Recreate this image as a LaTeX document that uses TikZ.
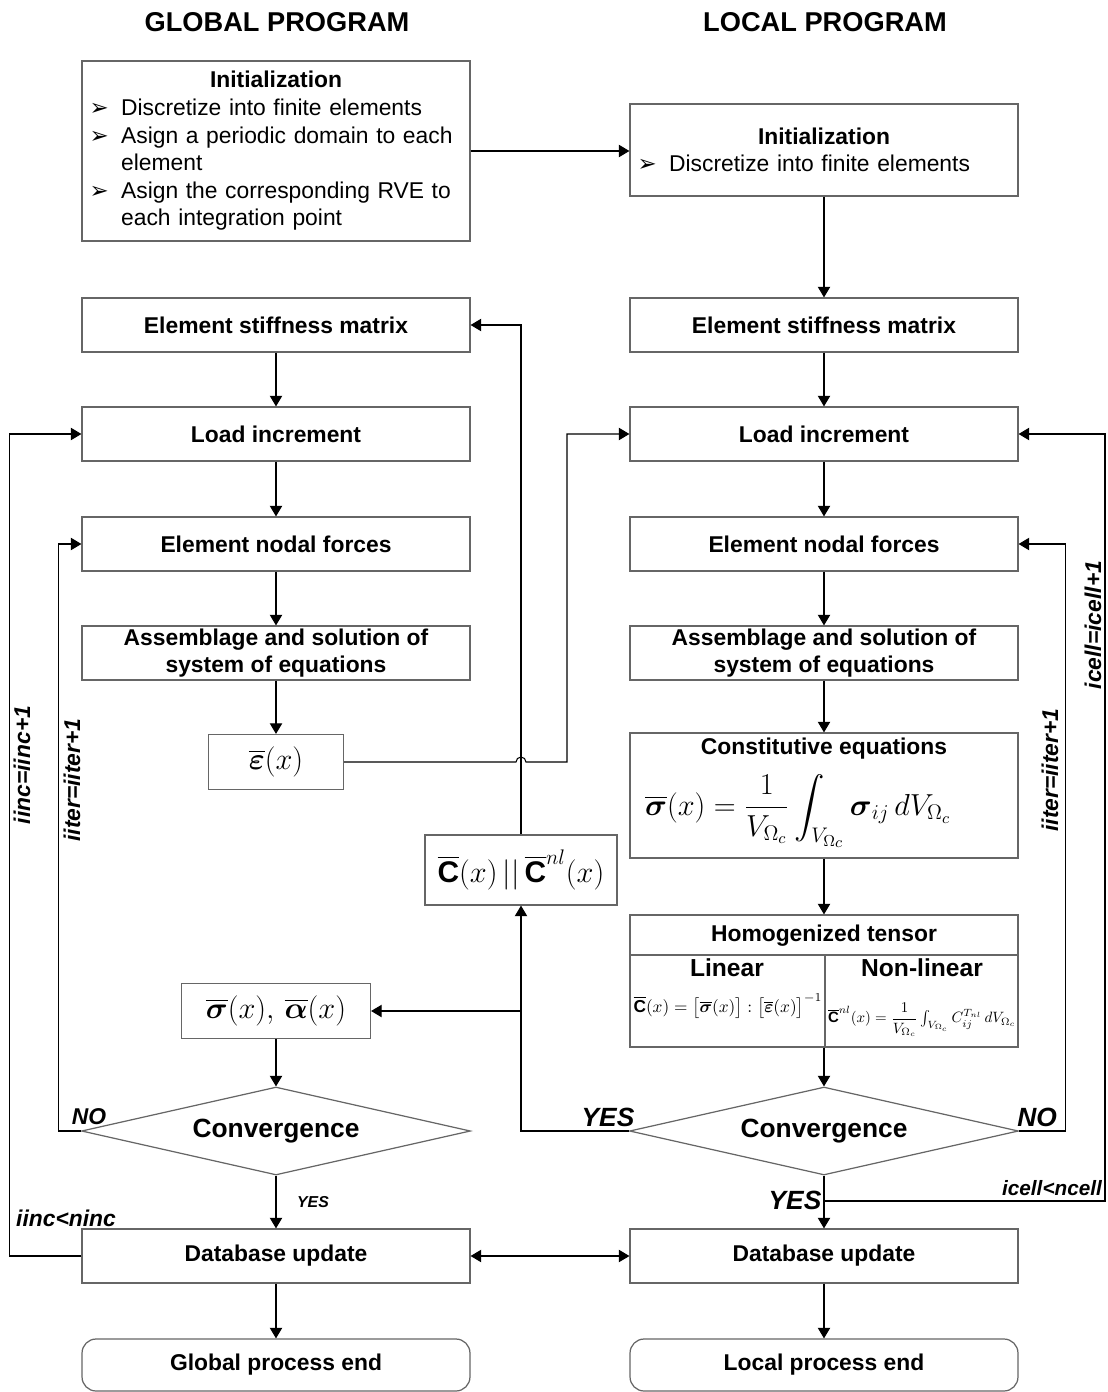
\documentclass[tikz,border=0pt]{standalone}
\usepackage{amsmath}
\usepackage{graphicx}
\usepackage{fontspec}
\setmainfont{Liberation Sans}
\newfontfamily\symfont{DejaVu Sans}
\usetikzlibrary{arrows.meta,shapes.geometric}

\newcommand\itm[1]{\par\hangindent=18pt\hangafter=1\noindent\makebox[18pt][l]{\symfont\char"27A2}#1\par}
\newcommand\mathsz{\fontsize{17}{20}\selectfont}

\tikzset{
  blk/.style={draw=black!60, line width=0.7pt, minimum width=7.76cm, minimum height=1.08cm,
    inner sep=1pt, align=center, font=\bfseries\fontsize{13}{15.5}\selectfont},
  endblk/.style={blk, rounded corners=8pt},
  decide/.style={draw=black!60, line width=0.7pt, diamond, aspect=4.41, minimum width=7.78cm,
    minimum height=1.76cm, inner sep=0pt, font=\bfseries\fontsize{15}{18}\selectfont},
  mathblk/.style={draw=black!60, line width=0.7pt, minimum height=1.1cm, inner sep=1pt, font=\mathsz},
  lnk/.style={line width=0.6pt, -{Triangle[length=6pt,width=7pt]}},
  tag/.style={font=\bfseries\itshape\fontsize{13}{15}\selectfont, inner sep=0pt},
  head/.style={font=\bfseries\fontsize{15.5}{18}\selectfont},
}

\begin{document}
\begin{tikzpicture}[x=0.02cm, y=-0.02cm]
  \useasboundingbox (0,0) rectangle (1107,1392);

  \node[head] (gtitle) at (277,22) {GLOBAL PROGRAM};
  \node[head] (ltitle) at (825,22) {LOCAL PROGRAM};

  % global column
  \node[blk, minimum height=3.6cm, text width=7.46cm, inner xsep=0.15cm, align=left,
        font=\fontsize{13}{15.7}\selectfont] (ginit) at (276,151)
    {{\centering\bfseries Initialization\par}
     \itm{Discretize into finite elements}
     \itm{Asign a periodic domain to each element}
     \itm{Asign the corresponding RVE to each integration point}};
  \node[blk] (gstiff) at (276,325) {Element stiffness matrix};
  \node[blk] (gload) at (276,434) {Load increment};
  \node[blk] (gforce) at (276,544) {Element nodal forces};
  \node[blk] (gsolve) at (276,653) {Assemblage and solution of\\system of equations};
  \node[mathblk, minimum width=2.7cm] (geps) at (276,762) {$\overline{\boldsymbol{\varepsilon}}(x)$};
  \node[mathblk, minimum width=3.78cm] (gsig) at (276,1011)
    {$\overline{\boldsymbol{\sigma}}(x),\,\overline{\boldsymbol{\alpha}}(x)$};
  \node[decide] (gconv) at (276,1131) {Convergence};
  \node[blk] (gdb) at (276,1256) {Database update};
  \node[endblk, minimum height=1.04cm] (gend) at (276,1365) {Global process end};

  \node[mathblk, minimum width=3.84cm, minimum height=1.4cm] (ctan) at (521,870)
    {$\overline{\mathbf{C}}(x)\,||\,\overline{\mathbf{C}}^{nl}(x)$};

  % local column
  \node[blk, minimum height=1.84cm, text width=7.46cm, inner xsep=0.15cm, align=left,
        font=\fontsize{13}{15.7}\selectfont] (linit) at (824,150)
    {{\centering\bfseries Initialization\par}
     \itm{Discretize into finite elements}};
  \node[blk] (lstiff) at (824,325) {Element stiffness matrix};
  \node[blk] (lload) at (824,434) {Load increment};
  \node[blk] (lforce) at (824,544) {Element nodal forces};
  \node[blk] (lsolve) at (824,653) {Assemblage and solution of\\system of equations};
  \node[blk, minimum height=2.5cm] (lconst) at (824,795.5) {};
  \node[font=\bfseries\fontsize{13}{15}\selectfont, inner sep=0pt] (consttitle) at (824,749) {Constitutive equations};
  \node[inner sep=0pt, font=\fontsize{17.5}{21}\selectfont] (constf) at (798,811)
    {$\displaystyle\overline{\boldsymbol{\sigma}}(x)=\frac{1}{V_{\Omega_c}}\int_{V_{\Omega_c}}\boldsymbol{\sigma}_{ij}\,dV_{\Omega_c}$};
  \node[blk, minimum height=2.64cm] (lhom) at (824,981) {};
  \draw[draw=black!60, line width=0.7pt] (630,955) -- (1019,955);
  \draw[draw=black!60, line width=0.7pt] (825,955) -- (825,1047);
  \node[font=\bfseries\fontsize{13}{15}\selectfont] (homtitle) at (824,936) {Homogenized tensor};
  \node[font=\bfseries\fontsize{14}{16}\selectfont, inner sep=0pt] (homlin) at (727,968) {Linear};
  \node[font=\bfseries\fontsize{14}{16}\selectfont, inner sep=0pt] (homnl) at (922,968) {Non-linear};
  \node[inner sep=0pt] (homlinf) at (728,1006)
    {\resizebox{3.78cm}{!}{$\overline{\mathbf{C}}(x)=\big[\overline{\boldsymbol{\sigma}}(x)\big]:\big[\overline{\boldsymbol{\varepsilon}}(x)\big]^{-1}$}};
  \node[inner sep=0pt] (homnlf) at (922,1020)
    {\resizebox{3.76cm}{!}{$\overline{\mathbf{C}}^{nl}(x)=\dfrac{1}{V_{\Omega_c}}\int_{V_{\Omega_c}}C_{ij}^{T_{nl}}\,dV_{\Omega_c}$}};
  \node[decide] (lconv) at (824,1131) {Convergence};
  \node[blk] (ldb) at (824,1256) {Database update};
  \node[endblk, minimum height=1.04cm] (lend) at (824,1365) {Local process end};

  % connectors
  \draw[lnk] (ginit.east) -- (linit.west |- ginit.east);
  \draw[lnk] (linit) -- (lstiff);
  \draw[lnk] (gstiff) -- (gload);
  \draw[lnk] (gload) -- (gforce);
  \draw[lnk] (gforce) -- (gsolve);
  \draw[lnk] (gsolve) -- (geps);
  \draw[lnk] (gsig) -- (gconv);
  \draw[lnk] (gconv) -- (gdb);
  \draw[lnk] (gdb) -- (gend);
  \draw[lnk] (lstiff) -- (lload);
  \draw[lnk] (lload) -- (lforce);
  \draw[lnk] (lforce) -- (lsolve);
  \draw[lnk] (lsolve) -- (lconst);
  \draw[lnk] (lconst) -- (lhom);
  \draw[lnk] (lhom) -- (lconv);
  \draw[lnk] (lconv) -- (ldb);
  \draw[lnk] (ldb) -- (lend);
  \draw[line width=0.6pt, {Triangle[length=6pt,width=7pt]}-{Triangle[length=6pt,width=7pt]}] (gdb) -- (ldb);

  \draw[lnk] (geps.east) -- (516,762) arc[start angle=180, end angle=0, radius=2.835pt]
    -- (567,762) |- (lload.west);
  \draw[lnk] (ctan.north) |- (gstiff.east);
  \draw[lnk] (lconv.west) -| (ctan.south);
  \draw[lnk] (ctan.south |- gsig.east) -- (gsig.east);

  \draw[lnk] (gconv.west) -- ++(-22,0) |- (gforce.west);
  \draw[lnk] (gdb.west) -- ++(-72,0) |- (gload.west);
  \draw[lnk] (lconv.east) -- ++(46,0) |- (lforce.east);
  \coordinate (cellj) at (824,1201);
  \draw[lnk] (cellj) -- (1105,1201) |- (lload.east);

  % labels
  \node[tag] (gno) at (89,1117) {NO};
  \node[tag, font=\bfseries\itshape\fontsize{9}{10}\selectfont] (gyes) at (313,1202) {YES};
  \node[tag] (gcnt) at (66,1218) {iinc<ninc};
  \node[tag, rotate=90] (ginc) at (22,765) {iinc=iinc+1};
  \node[tag, rotate=90] (giter) at (72,780) {iiter=iiter+1};
  \node[tag, font=\bfseries\itshape\fontsize{15}{17}\selectfont] (lyes) at (608,1117) {YES};
  \node[tag, font=\bfseries\itshape\fontsize{15}{17}\selectfont] (lno) at (1037,1117) {NO};
  \node[tag, font=\bfseries\itshape\fontsize{15}{17}\selectfont] (lyes2) at (795,1200) {YES};
  \node[tag, font=\bfseries\itshape\fontsize{11.8}{14}\selectfont] (lcnt) at (1052,1188) {icell<ncell};
  \node[tag, rotate=90] (liter) at (1050,770) {iiter=iiter+1};
  \node[tag, rotate=90] (lcell) at (1093,625) {icell=icell+1};
\end{tikzpicture}
\end{document}
